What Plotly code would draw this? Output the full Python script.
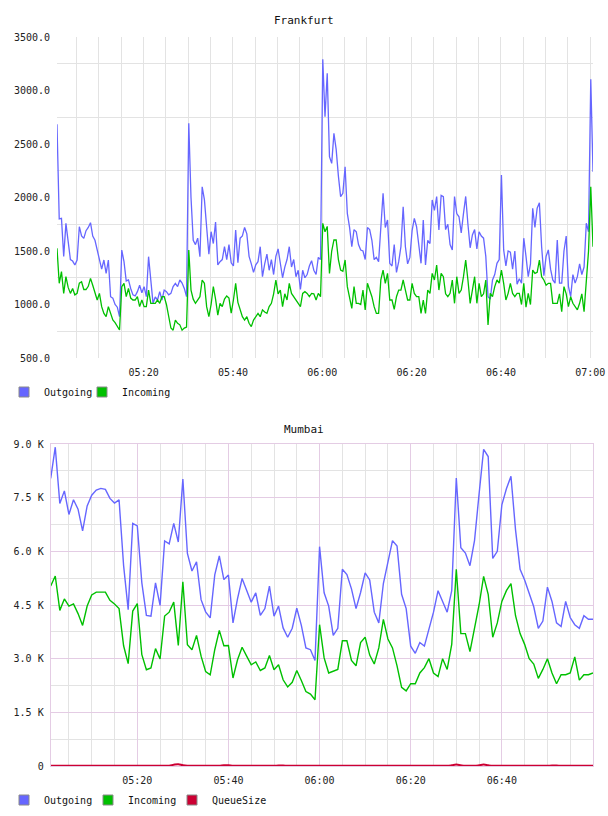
import pandas as pd
import plotly.graph_objects as go

# ---------------- data ----------------
FRA_START = "2013-05-14 05:00:36"
FRA_STEP = "30s"
fra_outgoing = [
    2684, 1800, 1805, 1450, 1758, 1600, 1420, 1406, 1369, 1416,
    1727, 1640, 1618, 1690, 1720, 1765, 1640, 1600, 1509, 1420,
    1330, 1416, 1291, 1416, 1073, 1060, 1000, 975, 886, 1509,
    1400, 1220, 1230, 1150, 1090, 1080, 1120, 1180, 1110, 1167,
    1073, 1447, 1200, 1011, 1070, 1042, 1120, 1042, 1135, 1120,
    1090, 1104, 1167, 1198, 1167, 1229, 1200, 1150, 1073, 2693,
    2000, 1600, 1560, 1620, 1447, 2100, 1980, 1750, 1470, 1680,
    1570, 1770, 1370, 1400, 1420, 1540, 1420, 1560, 1390, 1360,
    1696, 1390, 1620, 1640, 1720, 1660, 1450, 1380, 1300, 1370,
    1400, 1540, 1260, 1380, 1470, 1320, 1420, 1280, 1450, 1520,
    1380, 1250, 1350, 1420, 1540, 1350, 1420, 1260, 1320, 1140,
    1320, 1250, 1280, 1360, 1410, 1320, 1280, 1440, 1420, 3291,
    2755, 3160, 2381, 2319, 2600, 2450, 2200, 2008, 2039, 2288,
    1852, 1720, 1540, 1700, 1680, 1560, 1509, 1500, 1420, 1720,
    1700, 1600, 1420, 1440, 1400, 1700, 2039, 1720, 1790, 1385,
    1360, 1560, 1300, 1400, 1540, 1914, 1540, 1380, 1440, 1690,
    1805, 1727, 1570, 1385, 1790, 1370, 1600, 1570, 1977, 1880,
    2008, 1696, 2020, 2008, 1700, 1750, 1560, 1510, 2008, 1850,
    1820, 1670, 1850, 2010, 1750, 1530, 1650, 1700, 1520, 1680,
    1640, 1620, 1450, 1073, 1050, 1230, 1280, 1385, 1420, 2210,
    1510, 1360, 1500, 1490, 1330, 1500, 1190, 1240, 1200, 1620,
    1450, 1260, 1380, 1900, 1720, 1900, 1950, 1540, 1270, 1450,
    1510, 1330, 1230, 1200, 1603, 1200, 1200, 1500, 1640, 1170,
    1073, 1280, 1200, 1260, 1380, 1280, 1350, 1760, 1680, 3104,
    2241,
]
fra_incoming = [
    1525, 1198, 1307, 1104, 1260, 1160, 1104, 1150, 1090, 1104,
    1200, 1213, 1140, 1140, 1170, 1244, 1180, 1104, 1042, 1104,
    980, 917, 886, 980, 917, 855, 830, 800, 762, 1167,
    1198, 1073, 1150, 1060, 1042, 1042, 1073, 980, 1042, 980,
    980, 1135, 1011, 1011, 1011, 1042, 1011, 1073, 1073, 1000,
    900, 780, 760, 855, 824, 810, 760, 780, 790, 1509,
    1135, 1050, 1011, 1040, 1073, 1229, 1198, 980, 886, 1000,
    1167, 1050, 900, 1011, 980, 1050, 1080, 1060, 920, 1042,
    1198, 1020, 950, 886, 855, 886, 824, 793, 855, 886,
    917, 886, 950, 930, 917, 980, 1011, 1100, 1229, 1100,
    1135, 980, 1100, 1042, 1198, 1104, 1073, 1042, 1011, 980,
    1104, 1120, 1104, 1073, 1104, 1100, 1042, 1104, 1073, 1758,
    1680, 1730, 1290, 1500, 1603, 1603, 1420, 1322, 1310, 1416,
    1167, 1073, 964, 1167, 1011, 1011, 1000, 1135, 950, 1198,
    1135, 1073, 980, 917, 917, 1230, 1322, 1198, 1291, 1042,
    1042, 955, 1073, 1135, 1135, 1229, 1135, 1042, 1042, 1198,
    1104, 1073, 1073, 917, 1042, 917, 1135, 1104, 1291, 1229,
    1369, 1135, 1291, 1260, 1100, 1073, 1104, 1229, 1011, 1260,
    1104, 1135, 1260, 1416, 1229, 1011, 1135, 1260, 1011, 1198,
    1073, 1100, 1229, 808, 1104, 1073, 1167, 1229, 1200, 1322,
    1198, 1042, 1104, 1198, 1104, 1073, 1104, 1104, 1000, 1198,
    975, 1104, 1000, 1322, 1291, 1300, 1416, 1260, 1229, 1180,
    1198, 1198, 1011, 1011, 1011, 1100, 933, 1167, 1100, 980,
    1073, 1011, 980, 950, 1011, 1100, 933, 1260, 1500, 2101,
    1540,
]

MUM_START = "2013-05-14 05:01:00"
MUM_STEP = "60s"
mum_outgoing = [
    8040, 8910, 7340, 7690, 7030, 7440, 7180, 6570, 7270, 7570,
    7710, 7760, 7730, 7480, 7350, 7440, 5600, 4370, 6780, 6710,
    5120, 4210, 4190, 5120, 4490, 6290, 6210, 6780, 6260, 8020,
    5940, 5450, 5710, 4650, 4310, 4140, 5340, 5870, 5210, 5340,
    4000, 4680, 5240, 4930, 4580, 4840, 4210, 4400, 5030, 4190,
    4470, 3860, 3600, 3850, 4410, 3930, 3300, 3250, 2950, 6130,
    4840, 4470, 3650, 3850, 5500, 5350, 4950, 4400, 4850, 5400,
    5200, 4300, 4000, 5100, 5750, 6300, 6150, 4800, 4400, 3350,
    3150, 3450, 3350, 3850, 4300, 4900, 4600, 4300, 4900, 8050,
    6100, 5950, 5600, 6300, 7600, 8850, 8650, 5800, 6000, 7300,
    7750, 8100, 6600, 5500, 5200, 4800, 4450, 3850, 4050, 5000,
    4600, 4000, 3900, 4600, 4150, 3950, 3850, 4200, 4100, 4100,
]
mum_incoming = [
    5030, 5310, 4350, 4670, 4470, 4530, 4260, 3930, 4470, 4780,
    4860, 4860, 4860, 4630, 4530, 4400, 3360, 2860, 4330, 4540,
    3110, 2690, 2740, 3280, 2990, 4190, 4300, 4580, 3370, 5150,
    3390, 3250, 3650, 3070, 2640, 2550, 3250, 3790, 3360, 3370,
    2460, 2970, 3320, 3070, 2830, 2910, 2670, 2740, 3090, 2690,
    2830, 2410, 2210, 2340, 2670, 2390, 2080, 2010, 1850, 3950,
    3020, 2600, 2650, 2700, 3500, 3500, 2950, 2800, 3450, 3600,
    3100, 2850, 3300, 4100, 3550, 3300, 2800, 2200, 2100, 2300,
    2300, 2600, 2750, 3000, 2600, 2500, 3000, 2700, 3400, 5500,
    3700, 3700, 3200, 3800, 4500, 5300, 4800, 3600, 4000, 4600,
    4900, 5100, 4200, 3700, 3400, 3000, 2850, 2450, 2700, 3000,
    2600, 2300, 2550, 2550, 2600, 3050, 2400, 2550, 2550, 2600,
]
mum_queue = [
    5, 5, 5, 5, 5, 5, 5, 5, 5, 5,
    5, 5, 5, 5, 5, 5, 5, 5, 5, 5,
    5, 5, 5, 5, 5, 5, 10, 35, 50, 20,
    5, 5, 5, 5, 5, 5, 5, 5, 20, 20,
    5, 5, 5, 5, 5, 5, 5, 5, 5, 5,
    15, 15, 5, 5, 5, 5, 5, 5, 5, 5,
    5, 5, 5, 5, 5, 5, 5, 5, 5, 5,
    5, 5, 5, 5, 5, 5, 5, 5, 5, 5,
    5, 5, 5, 5, 5, 5, 5, 5, 20, 40,
    20, 5, 5, 5, 20, 40, 20, 5, 5, 5,
    5, 5, 5, 5, 5, 5, 5, 5, 5, 5,
    15, 15, 5, 5, 5, 5, 5, 5, 5, 5,
]

fra_ytick_vals = [500, 1000, 1500, 2000, 2500, 3000, 3500]
fra_ytick_text = ["500.0", "1000.0", "1500.0", "2000.0", "2500.0", "3000.0", "3500.0"]
fra_ygrid_vals = [750, 1250, 1750, 2250, 2750, 3250]
mum_ytick_vals = [0, 1500, 3000, 4500, 6000, 7500, 9000]
mum_ytick_text = ["0", "1.5 K", "3.0 K", "4.5 K", "6.0 K", "7.5 K", "9.0 K"]

# ---------------- style ----------------
W, H = 608, 816
BLUE = "#6666ff"
GREEN = "#00c000"
RED = "#cc0033"
GRID = "#e3e3e3"
PINK = "#e4cce4"
FONT = "DejaVu Sans Mono"

fra_t = pd.date_range(FRA_START, periods=len(fra_outgoing), freq=FRA_STEP)
mum_t = pd.date_range(MUM_START, periods=len(mum_outgoing), freq=MUM_STEP)

def px_x(p):
    return p / W

def px_y(p):
    return 1 - p / H

fig = go.Figure()

# Frankfurt lines
fig.add_trace(go.Scatter(x=fra_t, y=fra_outgoing, mode="lines", name="Outgoing",
                         line=dict(color=BLUE, width=1.3), showlegend=False,
                         xaxis="x", yaxis="y"))
fig.add_trace(go.Scatter(x=fra_t, y=fra_incoming, mode="lines", name="Incoming",
                         line=dict(color=GREEN, width=1.3), showlegend=False,
                         xaxis="x", yaxis="y"))
# Mumbai lines
fig.add_trace(go.Scatter(x=mum_t, y=mum_queue, mode="lines", name="QueueSize",
                         line=dict(color=RED, width=2, shape="spline"), showlegend=False,
                         xaxis="x2", yaxis="y2"))
fig.add_trace(go.Scatter(x=mum_t, y=mum_outgoing, mode="lines", name="Outgoing",
                         line=dict(color=BLUE, width=1.4), showlegend=False,
                         xaxis="x2", yaxis="y2"))
fig.add_trace(go.Scatter(x=mum_t, y=mum_incoming, mode="lines", name="Incoming",
                         line=dict(color=GREEN, width=1.4), showlegend=False,
                         xaxis="x2", yaxis="y2"))

# legend keys (square swatches)
def key(name, color, legend, xa, ya, lw=None):
    fig.add_trace(go.Scatter(x=[None], y=[None], mode="markers", name=name,
                             marker=dict(symbol="square", size=10, color=color,
                                         line=dict(color="#8a8a8a", width=1)),
                             legend=legend, legendwidth=lw,
                             xaxis=xa, yaxis=ya, hoverinfo="skip"))

key("Outgoing", BLUE, "legend", "x", "y")
key("Incoming", GREEN, "legend", "x", "y", 70)
key("Outgoing", BLUE, "legend2", "x2", "y2")
key("Incoming", GREEN, "legend2", "x2", "y2")
key("QueueSize", RED, "legend2", "x2", "y2", 80)

TWENTY = 20 * 60 * 1000
FIVE = 5 * 60 * 1000

common_x = dict(type="date", tickformat="%H:%M", dtick=TWENTY, tick0="2013-05-14 05:00:00",
                ticks="outside", ticklen=5, tickcolor="rgba(0,0,0,0)",
                zeroline=False, tickfont=dict(family=FONT, size=10, color="#222"))

fig.update_layout(
    width=W, height=H, autosize=False,
    margin=dict(l=0, r=0, t=0, b=0, autoexpand=False),
    paper_bgcolor="white", plot_bgcolor="white",
    font=dict(family=FONT, size=10, color="#222"),
    xaxis=dict(common_x, domain=[px_x(57), px_x(593)], anchor="y",
               range=[fra_t[0], fra_t[-1]],
               showgrid=True, gridcolor=GRID, gridwidth=1,
               minor=dict(dtick=FIVE, tick0="2013-05-14 05:00:00", showgrid=True,
                          gridcolor=GRID, gridwidth=1),
               showline=False),
    yaxis=dict(domain=[px_y(358), px_y(37)], anchor="x", range=[500, 3500],
               tickmode="array", tickvals=fra_ytick_vals, ticktext=fra_ytick_text,
               showgrid=False, zeroline=False, showline=False,
               ticks="outside", ticklen=4, tickcolor="rgba(0,0,0,0)",
               minor=dict(tickmode="array", tickvals=fra_ygrid_vals, showgrid=True,
                          gridcolor=GRID, gridwidth=1),
               tickfont=dict(family=FONT, size=10, color="#222")),
    xaxis2=dict(common_x, domain=[px_x(50.7), px_x(593)], anchor="y2",
                range=[mum_t[0], mum_t[-1]],
                showgrid=True, gridcolor=PINK, gridwidth=1,
                minor=dict(dtick=FIVE, tick0="2013-05-14 05:00:00", showgrid=True,
                           gridcolor=GRID, gridwidth=1),
                showline=True, mirror=True, linecolor=PINK, linewidth=1),
    yaxis2=dict(domain=[px_y(766), px_y(444)], anchor="x2", range=[0, 9000],
                tickmode="array", tickvals=mum_ytick_vals, ticktext=mum_ytick_text,
                showgrid=True, gridcolor=PINK, gridwidth=1, zeroline=False,
                showline=True, mirror=True, linecolor=PINK, linewidth=1,
                ticks="outside", ticklen=4, tickcolor="rgba(0,0,0,0)",
                minor=dict(tickmode="linear", tick0=750, dtick=1500, showgrid=True,
                           gridcolor=GRID, gridwidth=1),
                tickfont=dict(family=FONT, size=10, color="#222")),
    legend=dict(orientation="h", x=px_x(4), xanchor="left", y=px_y(392), yanchor="middle",
                entrywidth=33, font=dict(family=FONT, size=10, color="#111"),
                bgcolor="rgba(0,0,0,0)", itemclick=False, itemdoubleclick=False),
    legend2=dict(orientation="h", x=px_x(4), xanchor="left", y=px_y(800), yanchor="middle",
                 entrywidth=39, font=dict(family=FONT, size=10, color="#111"),
                 bgcolor="rgba(0,0,0,0)", itemclick=False, itemdoubleclick=False),
    annotations=[
        dict(text="Frankfurt", xref="paper", yref="paper", x=px_x(304), y=px_y(20),
             xanchor="center", yanchor="middle", showarrow=False,
             font=dict(family=FONT, size=11, color="#111")),
        dict(text="Mumbai", xref="paper", yref="paper", x=px_x(304), y=px_y(429),
             xanchor="center", yanchor="middle", showarrow=False,
             font=dict(family=FONT, size=11, color="#111")),
    ],
)

fig.write_html("out.html")
